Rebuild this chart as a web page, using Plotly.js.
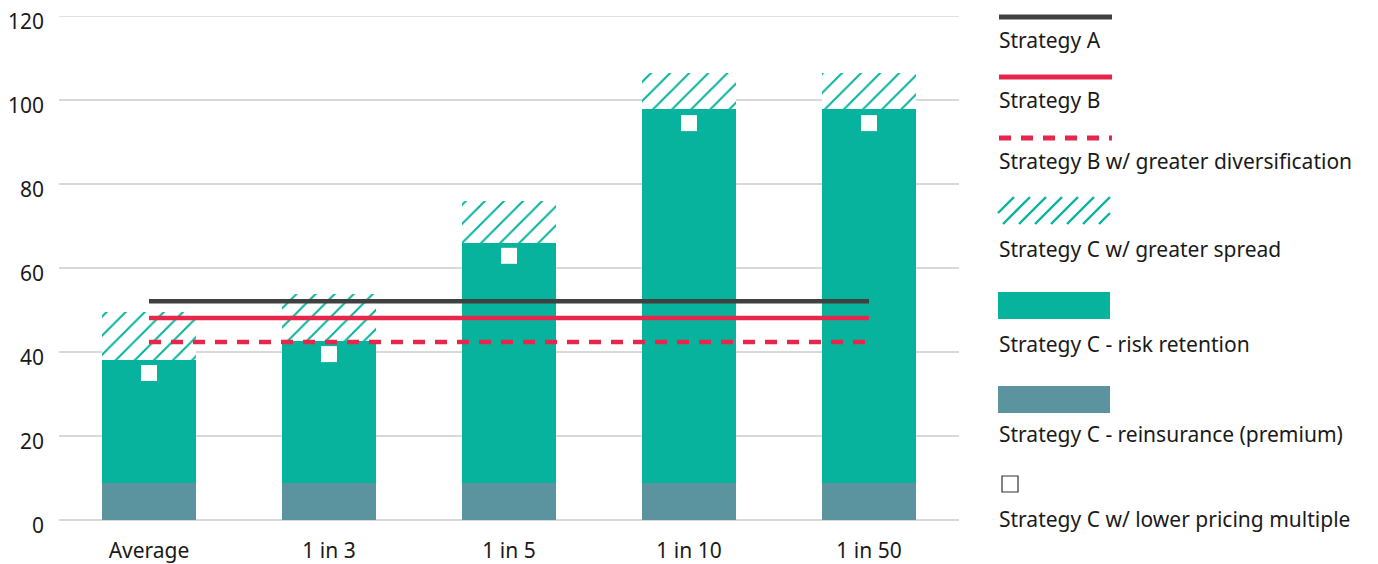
<!DOCTYPE html>
<html>
<head>
<meta charset="utf-8">
<script src="https://cdn.plot.ly/plotly-3.0.1.min.js"></script>
<style>html,body{margin:0;padding:0;background:#fff;}#chart{width:1378px;height:564px;}</style>
</head>
<body>
<div id="chart"></div>
<script>
// ---- data ----
const categories = ["Average", "1 in 3", "1 in 5", "1 in 10", "1 in 50"];
const reinsurancePremium = [8.8, 8.8, 8.8, 8.8, 8.8];
const riskRetentionTop = [38.1, 42.6, 66.0, 97.9, 97.9];
const greaterSpreadTop = [49.5, 53.8, 76.0, 106.4, 106.4];
const lowerPricingMultiple = [35.0, 39.5, 62.9, 94.5, 94.5];
const strategyA = [52.1, 52.1, 52.1, 52.1, 52.1];
const strategyB = [48.1, 48.1, 48.1, 48.1, 48.1];
const strategyBDiversified = [42.4, 42.4, 42.4, 42.4, 42.4];
const yTicks = [0, 20, 40, 60, 80, 100, 120];
const legendLabels = ["Strategy A", "Strategy B", "Strategy B w/ greater diversification",
  "Strategy C w/ greater spread", "Strategy C - risk retention",
  "Strategy C - reinsurance (premium)", "Strategy C w/ lower pricing multiple"];

// ---- colours ----
const TEAL = "#08B39E", SLATE = "#5B939E", DARK = "#404040", RED = "#E6264A";
const FONT = "Noto Sans, sans-serif";
const FS = 21;

const retentionPart = riskRetentionTop.map((v, i) => v - reinsurancePremium[i]);
const spreadPart = greaterSpreadTop.map((v, i) => v - riskRetentionTop[i]);

const traces = [
  {type: "bar", x: categories, y: reinsurancePremium, marker: {color: SLATE, line: {width: 0}}, name: legendLabels[5]},
  {type: "bar", x: categories, y: retentionPart, marker: {color: TEAL, line: {width: 0}}, name: legendLabels[4]},
  {type: "bar", x: categories, y: spreadPart, name: legendLabels[3],
   marker: {color: "#ffffff", line: {width: 0}, pattern: {shape: "/", fgcolor: TEAL, bgcolor: "#ffffff", size: 13.5, solidity: 0.15, fillmode: "replace"}}},
  {type: "scatter", mode: "lines", x: categories, y: strategyA, line: {color: DARK, width: 4.5}, name: legendLabels[0]},
  {type: "scatter", mode: "lines", x: categories, y: strategyB, line: {color: RED, width: 4.5}, name: legendLabels[1]},
  {type: "scatter", mode: "lines", x: categories, y: strategyBDiversified, line: {color: RED, width: 4.5, dash: "12px,10px"}, name: legendLabels[2]},
  {type: "scatter", mode: "markers", x: categories, y: lowerPricingMultiple, name: legendLabels[6],
   marker: {symbol: "square", size: 16, color: "#ffffff", line: {width: 0}}}
];

// ---- custom legend (symbol above text) ----
const W = 1378, H = 564, L = 59, R = 959, T = 16, B = 520;
const YMAX = 120;
const px = v => (v - L) / (R - L);
const py = v => (B - v) / (B - T);
const shapes = [];
const annotations = [];
function lineShape(x0, x1, y, color, width, dash) {
  shapes.push({type: "line", xref: "paper", yref: "paper", x0: px(x0), x1: px(x1), y0: py(y), y1: py(y),
    line: {color: color, width: width, dash: dash || "solid"}});
}
function rectShape(x0, x1, y0, y1, fill, lineColor, lw) {
  shapes.push({type: "rect", xref: "paper", yref: "paper", x0: px(x0), x1: px(x1), y0: py(y0), y1: py(y1),
    fillcolor: fill, line: {color: lineColor || fill, width: lw || 0}});
}
function label(text, y) {
  annotations.push({xref: "paper", yref: "paper", x: px(997), y: py(y), xanchor: "left", yanchor: "middle",
    text: text, showarrow: false, font: {family: FONT, size: FS, color: "#1a1a1a"}});
}
lineShape(999, 1112, 17, DARK, 5);
label(legendLabels[0], 40);
lineShape(999, 1112, 77, RED, 5);
label(legendLabels[1], 100);
lineShape(999, 1112, 138, RED, 5, "12px,10px");
label(legendLabels[2], 161);
// hatched swatch: clipped diagonal lines
(function () {
  const x0 = 998, x1 = 1110, yTop = 197, yBot = 224, h = yBot - yTop, step = 16;
  for (let b = x0 - h; b < x1; b += step) {
    let t0 = 0, t1 = 1;
    if (b < x0) t0 = (x0 - b) / h;
    if (b + h > x1) t1 = (x1 - b) / h;
    if (t1 <= t0) continue;
    shapes.push({type: "line", xref: "paper", yref: "paper",
      x0: px(b + h * t0), y0: py(yBot - h * t0), x1: px(b + h * t1), y1: py(yBot - h * t1),
      line: {color: TEAL, width: 2.4}});
  }
})();
label(legendLabels[3], 249);
rectShape(998, 1110, 292, 319, TEAL);
label(legendLabels[4], 344);
rectShape(998, 1110, 386, 413, SLATE);
label(legendLabels[5], 434);
rectShape(1002, 1018, 476, 492, "#ffffff", "#333333", 1.2);
label(legendLabels[6], 519);

const layout = {
  width: W, height: H,
  margin: {l: L, r: W - R, t: T, b: H - B, pad: 0},
  paper_bgcolor: "#ffffff", plot_bgcolor: "#ffffff",
  barmode: "stack", bargap: 0.48,
  showlegend: false,
  font: {family: FONT, size: FS, color: "#1a1a1a"},
  xaxis: {type: "category", showgrid: false, zeroline: false, showline: false, ticks: "",
    tickfont: {family: FONT, size: FS, color: "#1a1a1a"}, ticklabelstandoff: 16},
  yaxis: {range: [0, YMAX], tickvals: yTicks, ticktext: yTicks.map(String), showgrid: true, gridcolor: "#d9d9d9", gridwidth: 1.5,
    zeroline: true, zerolinecolor: "#d9d9d9", zerolinewidth: 1.5, showline: false, ticks: "",
    tickfont: {family: FONT, size: FS, color: "#1a1a1a"}, ticklabelshift: 6, ticklabelstandoff: 14, ticklabeloverflow: "allow"},
  shapes: shapes.concat([{type: "line", xref: "paper", yref: "y", x0: 0, x1: 1, y0: YMAX, y1: YMAX,
    line: {color: "#d9d9d9", width: 1.5}, layer: "below"}]),
  annotations: annotations
};

Plotly.newPlot("chart", traces, layout, {displayModeBar: false, staticPlot: true});
</script>
</body>
</html>
